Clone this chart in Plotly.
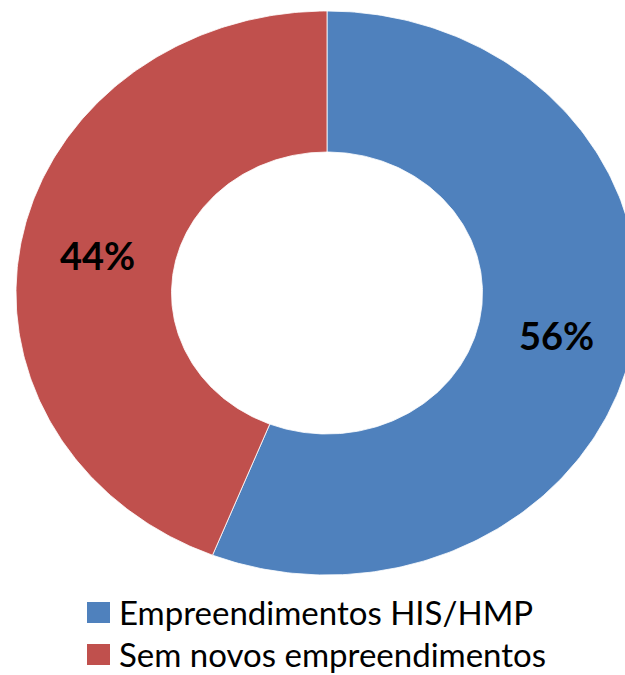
import numpy as np
import plotly.graph_objects as go

# Share of municipalities by housing launches
categories = ["Empreendimentos HIS/HMP", "Sem novos empreendimentos"]
shares = [56, 44]
colors = ["#4F81BD", "#C0504D"]

# Donut geometry in pixel-like axis units (y grows downward)
CX, CY = 327, 293
RX, RY = 311, 282
HOLE = 0.5
LABEL_R = 0.75

fig = go.Figure()

total = sum(shares)
start = 0.0
for name, val, col in zip(categories, shares, colors):
    a0 = start / total * 2 * np.pi
    a1 = (start + val) / total * 2 * np.pi
    t = np.linspace(a0, a1, 240)
    xo = CX + RX * np.sin(t)
    yo = CY - RY * np.cos(t)
    xi = CX + RX * HOLE * np.sin(t[::-1])
    yi = CY - RY * HOLE * np.cos(t[::-1])
    xs = np.concatenate([xo, xi, xo[:1]])
    ys = np.concatenate([yo, yi, yo[:1]])
    fig.add_trace(go.Scatter(
        x=xs, y=ys, mode="lines", fill="toself", fillcolor=col,
        line=dict(color="white", width=0.8), name=name,
        showlegend=False, hoverinfo="name",
    ))
    # percentage label at the middle of the slice
    am = (a0 + a1) / 2
    fig.add_annotation(
        x=CX + RX * LABEL_R * np.sin(am), y=CY - RY * LABEL_R * np.cos(am) + 2,
        text=f"<b>{val}%</b>", showarrow=False, xref="x", yref="y",
        font=dict(family="Lato", size=38, color="black", weight=900),
    )
    start += val

# Legend entries
for i, (name, col) in enumerate(zip(categories, colors)):
    yc = 612 + 42 * i
    fig.add_shape(type="rect", xref="x", yref="y",
                  x0=87, x1=110, y0=yc - 10, y1=yc + 11,
                  fillcolor=col, line=dict(width=0))
    fig.add_annotation(x=118, y=yc, xref="x", yref="y", text=name,
                       showarrow=False, xanchor="left", yanchor="middle",
                       borderpad=0,
                       font=dict(family="Lato", size=33, color="black"))

fig.update_layout(
    width=625, height=675,
    margin=dict(l=0, r=0, t=0, b=0),
    paper_bgcolor="white", plot_bgcolor="white",
    xaxis=dict(range=[0, 625], visible=False, fixedrange=True),
    yaxis=dict(range=[675, 0], visible=False, fixedrange=True),
    showlegend=False,
)

fig.write_html("out.html")
